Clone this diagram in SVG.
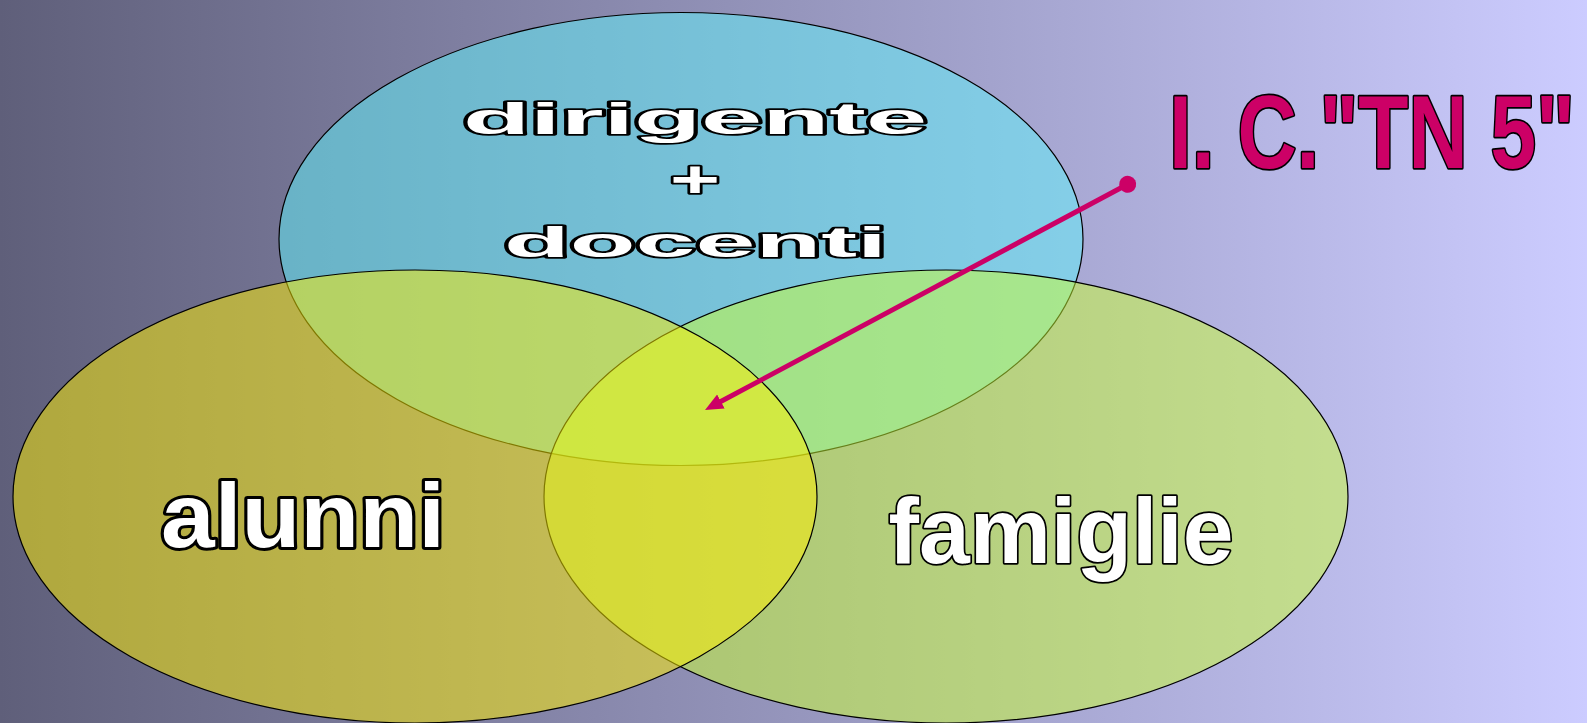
<svg xmlns="http://www.w3.org/2000/svg" width="1587" height="723" viewBox="0 0 1587 723">
<defs>
<linearGradient id="bg" x1="0" y1="0" x2="1" y2="0">
<stop offset="0" stop-color="#5f5f7a"/>
<stop offset="1" stop-color="#ccccff"/>
</linearGradient>
<marker id="ah" markerUnits="userSpaceOnUse" markerWidth="20" markerHeight="18" refX="6" refY="8" orient="auto" viewBox="0 0 20 16">
<path d="M0,0 L18,8 L0,16 z" fill="#cc0066"/>
</marker>
<marker id="dot" markerUnits="userSpaceOnUse" markerWidth="20" markerHeight="20" refX="10" refY="10" orient="auto" viewBox="0 0 20 20">
<circle cx="10" cy="10" r="8.5" fill="#cc0066"/>
</marker>
<style>
.ell{stroke:#000;stroke-width:1.2;fill-opacity:0.5}
.wt{font-family:"Liberation Sans",Arial,sans-serif;font-weight:bold;fill:#fff;stroke:#000;paint-order:stroke;stroke-linejoin:round;text-anchor:middle}
.ic{font-family:"Liberation Sans",Arial,sans-serif;font-weight:bold;fill:#cc0066;stroke:#000;stroke-width:3.5;paint-order:stroke;stroke-linejoin:round}
</style>
</defs>
<rect x="0" y="0" width="1587" height="723" fill="url(#bg)"/>
<g id="node-top">
<ellipse class="ell" cx="681" cy="239" rx="402" ry="226.5" fill="#60f4fc"/>
</g>
<g id="node-right">
<ellipse class="ell" cx="946" cy="496.5" rx="402" ry="226.5" fill="#ccff33"/>
</g>
<g id="node-left">
<ellipse class="ell" cx="415" cy="496.5" rx="402" ry="226.5" fill="#fff000"/>
</g>
<g id="label-top">
<text class="wt" x="695" y="133.5" font-size="44" stroke-width="3.5" textLength="464" lengthAdjust="spacingAndGlyphs">dirigente</text>
<text class="wt" x="695" y="197" font-size="52" stroke-width="3.5" textLength="50" lengthAdjust="spacingAndGlyphs">+</text>
<text class="wt" x="695.5" y="257" font-size="43" stroke-width="3.5" textLength="383" lengthAdjust="spacingAndGlyphs">docenti</text>
</g>
<g id="label-left">
<text class="wt" x="303" y="547" font-size="90" stroke-width="6" textLength="284" lengthAdjust="spacingAndGlyphs">alunni</text>
</g>
<g id="label-right">
<text class="wt" x="1061" y="563" font-size="93" stroke-width="3.5" textLength="345" lengthAdjust="spacingAndGlyphs">famiglie</text>
</g>
<g id="title">
<text class="ic" x="1169" y="168" font-size="103" textLength="406" lengthAdjust="spacingAndGlyphs">I. C."TN 5"</text>
</g>
<g id="connectors">
<line x1="1127.7" y1="184.3" x2="715.6" y2="404.3" stroke="#cc0066" stroke-width="5" marker-start="url(#dot)" marker-end="url(#ah)"/>
</g>
</svg>
